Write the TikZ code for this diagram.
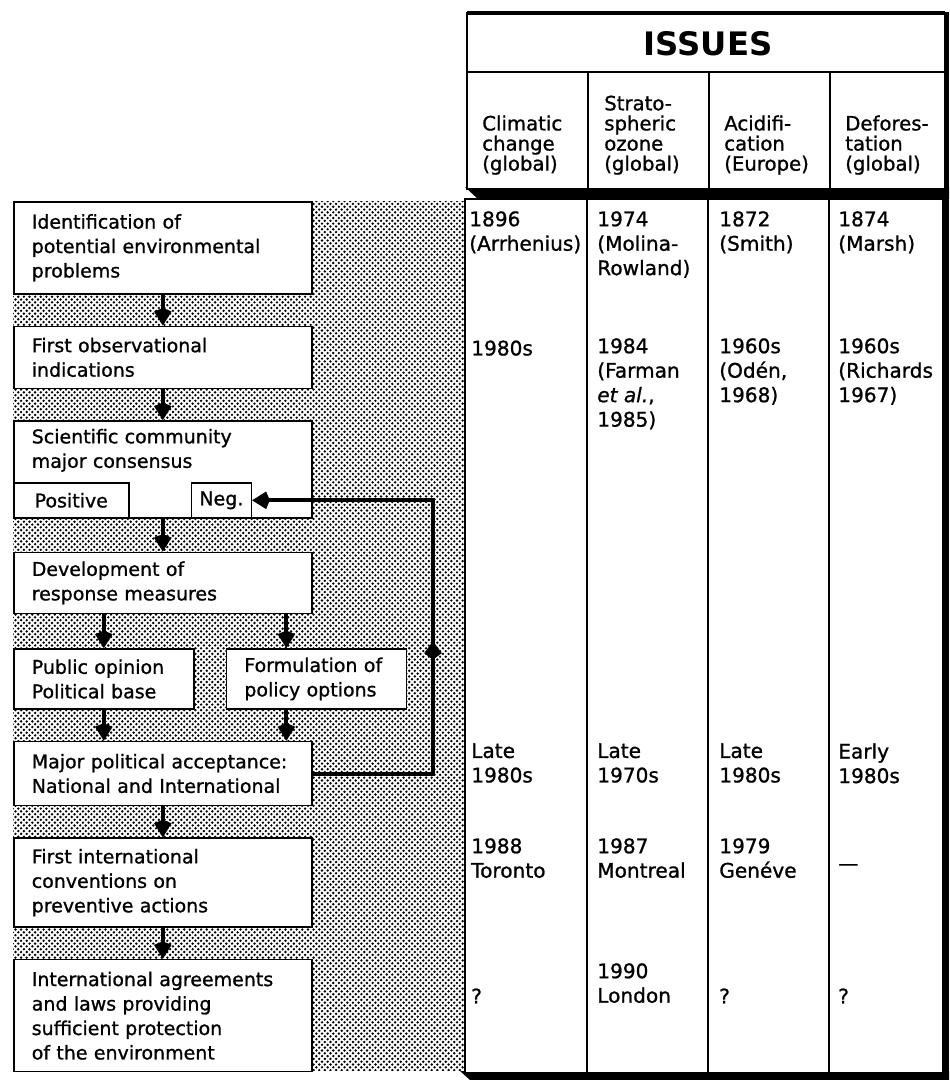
\documentclass[tikz,border=0pt]{standalone}
\usepackage{fontspec}
\setmainfont{DejaVu Sans}
\newfontfamily\chartfont{DejaVu Sans}[FakeBold=1]
\usetikzlibrary{arrows.meta,positioning,patterns,decorations.markings}

\newcommand\txtsize{\chartfont\fontsize{13.5}{17.4}\selectfont}
\newcommand\cellsize{\chartfont\fontsize{14.3}{17.4}\selectfont}
\newcommand\headsize{\chartfont\fontsize{14}{14.3}\selectfont}

% halftone screen behind the flow chart
\pgfdeclarepatternformonly{halftone}{\pgfpoint{-1pt}{-1pt}}{\pgfpoint{5pt}{5pt}}{\pgfpoint{4pt}{4pt}}
{
  \pgfpathcircle{\pgfpoint{1pt}{1pt}}{0.95pt}
  \pgfpathcircle{\pgfpoint{3pt}{3pt}}{0.95pt}
  \pgfusepath{fill}
}

\begin{document}
\begin{tikzpicture}[
    x = 0.025cm, y = -0.025cm, % one unit = one pixel of the scan
    node distance = 0.775cm, % gap between the stages
    stagebox/.style = {draw, line width=1.1pt, fill=white, align=left,
        text width=6.55cm, inner xsep=0.45cm, inner ysep=0.2cm, font=\txtsize},
    halfbox/.style = {stagebox, text width=3.6cm, minimum height=1.5cm},
    tagbox/.style = {draw, line width=1.1pt, fill=white, inner sep=0pt,
        minimum height=0.875cm, font=\txtsize},
    flow/.style = {line width=2.8pt, -{Kite[length=4.4mm, width=4.4mm, inset=0.9mm]}},
    midkite/.style = {postaction=decorate, decoration={markings,
        mark=at position #1 with {\arrow{Kite[length=4.6mm, width=4.4mm, inset=1.6mm]}}}},
    hcell/.style = {anchor=south west, inner sep=0pt, align=left, font=\headsize},
    tcell/.style = {anchor=north west, inner sep=0pt, align=left, font=\cellsize,
        execute at begin node=\strut}
    ]

    \useasboundingbox (0,0) rectangle (949,1080);

    % screen behind the chart
    \fill[pattern=halftone] (13,201) rectangle (466,1070);

    % issues table: body
    \fill (460,1071) -- (949,1071) -- (949,1080) -- (470,1080) -- cycle;
    \fill (942,199) rectangle (949,1080);
    \draw[line width=1.1pt, fill=white] (465,199) rectangle (943,1073);
    \foreach \x in {587,708,829}
        \draw[line width=0.8pt] (\x,199) -- (\x,1073);

    % issues table: head
    \fill (465,187) -- (949,187) -- (949,199) -- (478,199) -- cycle;
    \fill (944,12) rectangle (949,199);
    \draw[line width=1.1pt, fill=white] (467,13) rectangle (945,189);
    \draw[line width=2.5pt] (467,13) -- (945,13);
    \draw[line width=1.1pt] (467,72) -- (945,72);
    \foreach \x in {588,709,830}
        \draw[line width=0.8pt] (\x,72) -- (\x,189);

    \node[font=\fontsize{23}{23}\selectfont\bfseries] (issues) at (708,44) {ISSUES};
    \node[hcell] (climate) at (482,175) {Climatic\\change\\(global)};
    \node[hcell] (ozone) at (604,175) {Strato-\\spheric\\ozone\\(global)};
    \node[hcell] (acid) at (724,175) {Acidifi-\\cation\\(Europe)};
    \node[hcell] (forest) at (845,175) {Defores-\\tation\\(global)};

    \node[tcell] (c11) at (469,211) {1896\\(Arrhenius)};
    \node[tcell] (c12) at (597,211) {1974\\(Molina-\\Rowland)};
    \node[tcell] (c13) at (719,211) {1872\\(Smith)};
    \node[tcell] (c14) at (838,211) {1874\\(Marsh)};

    \node[tcell] (c21) at (471,338) {1980s};
    \node[tcell] (c22) at (597,338) {1984\\(Farman\\\textit{et al.},\\1985)};
    \node[tcell] (c23) at (719,338) {1960s\\(Odén,\\1968)};
    \node[tcell] (c24) at (838,338) {1960s\\(Richards\\1967)};

    \node[tcell] (c31) at (471,743) {Late\\1980s};
    \node[tcell] (c32) at (597,743) {Late\\1970s};
    \node[tcell] (c33) at (719,743) {Late\\1980s};
    \node[tcell] (c34) at (838,743) {Early\\1980s};

    \node[tcell] (c41) at (471,838) {1988\\Toronto};
    \node[tcell] (c42) at (597,838) {1987\\Montreal};
    \node[tcell] (c43) at (719,838) {1979\\Genéve};
    \node[tcell] (c44) at (838,853) {—};

    \node[tcell] (c51) at (471,986) {?};
    \node[tcell] (c52) at (597,963) {1990\\London};
    \node[tcell] (c53) at (719,986) {?};
    \node[tcell] (c54) at (838,986) {?};

    % flow chart
    \node[stagebox, minimum height=2.3cm, anchor=north west] (identify) at (13,201)
        {Identification of\\potential environmental\\problems};
    \node[stagebox, minimum height=1.55cm, below=of identify] (observe)
        {First observational\\indications};
    \node[stagebox, below=of observe] (consensus)
        {Scientific community\\major consensus\rule[-1.05cm]{0pt}{0pt}};
    \node[tagbox, minimum width=2.875cm, anchor=south west] (positive) at (consensus.south west) {Positive};
    \node[tagbox, minimum width=1.5cm, right=1.525cm of positive] (neg) {Neg.};
    \node[stagebox, minimum height=1.525cm, below=0.825cm of consensus] (respond)
        {Development of\\response measures};
    \node[halfbox, below=0.85cm of respond.south west, anchor=north west] (public)
        {Public opinion\\Political base};
    \node[halfbox, right=of public] (policy) {Formulation of\\policy options};
    \node[stagebox, minimum height=1.6cm, below=of public.south west, anchor=north west] (accept)
        {Major political acceptance:\\National and International};
    \node[stagebox, minimum height=2.225cm, below=of accept] (convene)
        {First international\\conventions on\\preventive actions};
    \node[stagebox, minimum height=2.8cm, below=of convene] (agree)
        {International agreements\\and laws providing\\sufficient protection\\of the environment};

    \draw[flow] (identify) -- (observe);
    \draw[flow] (observe) -- (consensus);
    \draw[flow] (consensus) -- (respond);
    \draw[flow] (public |- respond.south) -- (public);
    \draw[flow] ([xshift=-0.75cm]policy.north |- respond.south) -- ([xshift=-0.75cm]policy.north);
    \draw[flow] (public) -- (public |- accept.north);
    \draw[flow] ([xshift=-0.75cm]policy.south) -- ([xshift=-0.75cm]policy.south |- accept.north);
    \draw[flow] (accept) -- (convene);
    \draw[flow] (convene) -- (agree);

    % back to the negative consensus
    \coordinate (loop) at (433,765);
    \draw[flow, midkite=0.44] (accept.east) -- (accept.east -| loop) |- (neg.east);
\end{tikzpicture}
\end{document}
